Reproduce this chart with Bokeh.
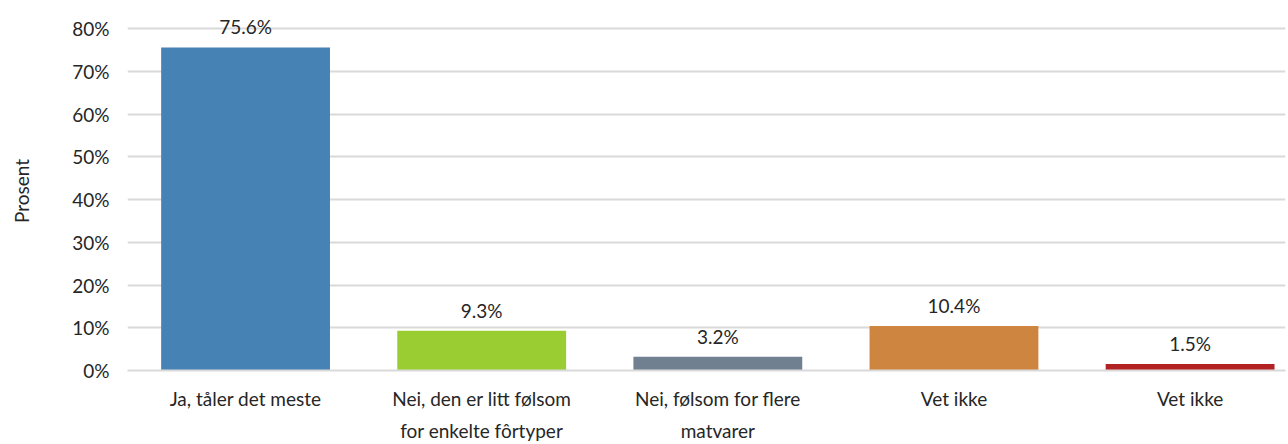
from bokeh.plotting import figure
from bokeh.models import ColumnDataSource, FixedTicker, Range1d
from bokeh.embed import file_html
from bokeh.resources import INLINE
from bokeh.core.properties import value

categories = ["Ja, tåler det meste", "Nei, den er litt følsom\nfor enkelte fôrtyper",
              "Nei, følsom for flere\nmatvarer", "Vet ikke", "Vet ikke"]
values = [75.6, 9.3, 3.2, 10.4, 1.5]
colors = ["#4682B4", "#9ACD32", "#708090", "#CD853F", "#B22222"]
labels = ["75.6%", "9.3%", "3.2%", "10.4%", "1.5%"]
y_ticks = [0, 10, 20, 30, 40, 50, 60, 70, 80]
y_title = "Prosent"

xs = list(range(len(categories)))
src = ColumnDataSource(dict(x=xs, top=values, color=colors, label=labels))

FONT = "Lato"
TXT = "#262626"
p = figure(width=1288, height=444, output_backend="svg", toolbar_location=None,
           x_range=Range1d(-0.5, 4.404), y_range=Range1d(0, 84),
           min_border_left=127, min_border_right=3, min_border_top=11, min_border_bottom=73)
p.outline_line_color = None
p.background_fill_color = "white"

p.vbar(x="x", top="top", bottom=0, width=0.715, color="color", source=src, line_color=None)
p.text(x="x", y="top", text="label", source=src, text_align="center", text_baseline="bottom",
       y_offset=-9, text_font=value(FONT), text_font_size="19px", text_color=TXT)

p.yaxis.ticker = FixedTicker(ticks=y_ticks)
p.yaxis.major_label_overrides = {t: f"{t}%" for t in y_ticks}
p.yaxis.axis_line_color = None
p.yaxis.major_tick_line_color = None
p.yaxis.minor_tick_line_color = None
p.yaxis.major_tick_out = 0
p.yaxis.major_tick_in = 0
p.yaxis.major_label_standoff = 18
p.yaxis.major_label_text_font = FONT
p.yaxis.major_label_text_font_size = "19px"
p.yaxis.major_label_text_color = TXT
p.yaxis.axis_label = y_title
p.yaxis.axis_label_text_font = FONT
p.yaxis.axis_label_text_font_size = "19px"
p.yaxis.axis_label_text_font_style = "normal"
p.yaxis.axis_label_text_color = TXT
p.yaxis.axis_label_standoff = 36

p.xaxis.ticker = FixedTicker(ticks=xs)
p.xaxis.major_label_overrides = {i: c for i, c in enumerate(categories)}
p.xaxis.axis_line_color = "#d9d9d9"
p.xaxis.axis_line_width = 2
p.xaxis.major_tick_line_color = None
p.xaxis.minor_tick_line_color = None
p.xaxis.major_tick_out = 0
p.xaxis.major_tick_in = 0
p.xaxis.major_label_standoff = 16
p.xaxis.major_label_text_font = FONT
p.xaxis.major_label_text_font_size = "19px"
p.xaxis.major_label_text_color = TXT
p.xaxis.major_label_text_line_height = 1.4

p.xgrid.grid_line_color = None
p.ygrid.ticker = FixedTicker(ticks=y_ticks)
p.ygrid.grid_line_color = "#d9d9d9"
p.ygrid.grid_line_width = 2

open("out.html", "w").write(file_html(p, INLINE))
